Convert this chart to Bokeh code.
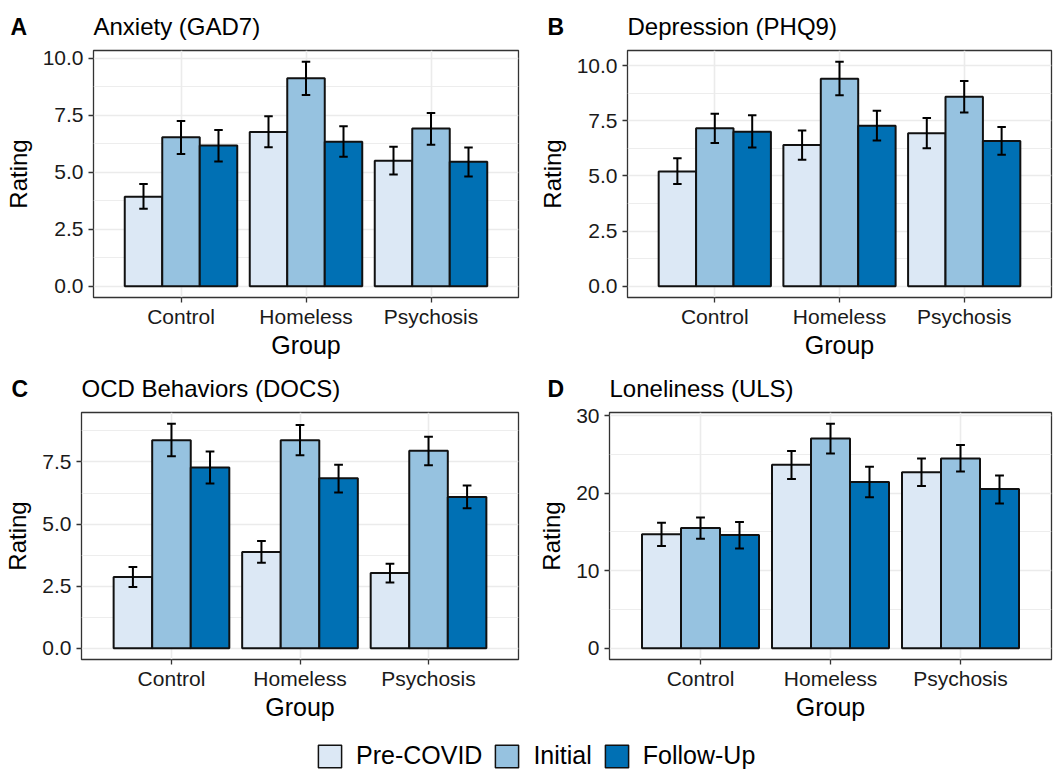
from bokeh.plotting import figure
from bokeh.models import (ColumnDataSource, FactorRange, Range1d, FixedTicker,
                          Legend, LegendItem)
from bokeh.transform import dodge
from bokeh.layouts import column, row
from bokeh.embed import file_html
from bokeh.resources import INLINE
from bokeh.core.properties import value

# ---------------- data ----------------
groups = ["Control", "Homeless", "Psychosis"]
timepoints = ["Pre-COVID", "Initial", "Follow-Up"]
colors = ["#DCE8F5", "#96C2E0", "#0070B4"]

# rows = timepoints (Pre-COVID, Initial, Follow-Up); columns = groups
gad7_mean = [[3.93, 6.77, 5.51], [6.54, 9.13, 6.92], [6.17, 6.34, 5.46]]
gad7_low = [[3.40, 6.10, 4.90], [5.80, 8.39, 6.21], [5.47, 5.68, 4.81]]
gad7_high = [[4.49, 7.46, 6.12], [7.25, 9.85, 7.60], [6.86, 7.02, 6.09]]

phq9_mean = [[5.20, 6.40, 6.94], [7.16, 9.41, 8.59], [7.01, 7.28, 6.59]]
phq9_low = [[4.64, 5.74, 6.26], [6.49, 8.66, 7.88], [6.29, 6.61, 5.96]]
phq9_high = [[5.80, 7.06, 7.63], [7.82, 10.18, 9.31], [7.75, 7.96, 7.22]]

docs_mean = [[2.87, 3.88, 3.03], [8.37, 8.37, 7.95], [7.28, 6.84, 6.09]]
docs_low = [[2.47, 3.44, 2.65], [7.73, 7.77, 7.37], [6.63, 6.27, 5.64]]
docs_high = [[3.27, 4.32, 3.40], [9.04, 8.99, 8.52], [7.92, 7.39, 6.55]]

uls_mean = [[14.68, 23.64, 22.70], [15.49, 27.02, 24.46], [14.60, 21.43, 20.53]]
uls_low = [[13.19, 21.81, 20.91], [14.13, 25.10, 22.79], [12.85, 19.46, 18.65]]
uls_high = [[16.18, 25.44, 24.46], [16.86, 28.94, 26.20], [16.26, 23.39, 22.28]]

panel_letters = ["A", "B", "C", "D"]
panel_titles = ["Anxiety (GAD7)", "Depression (PHQ9)", "OCD Behaviors (DOCS)", "Loneliness (ULS)"]

small_ticks = [0, 2.5, 5.0, 7.5, 10.0]
small_minor = [1.25, 3.75, 6.25, 8.75]
small_labels = ["0.0", "2.5", "5.0", "7.5", "10.0"]
uls_ticks = [0, 10, 20, 30]
uls_minor = [5, 15, 25]
uls_labels = ["0", "10", "20", "30"]

FONT = "Liberation Sans"
W = 1062


def make_header(letters, titles, height, letter_xs, title_xs, mid_y):
    h = figure(width=W, height=height, min_border=0, title=None,
               x_range=Range1d(0, W), y_range=Range1d(0, height),
               output_backend="svg", toolbar_location=None)
    h.axis.visible = False
    h.grid.visible = False
    h.outline_line_color = None
    h.text(x=letter_xs, y=[mid_y] * len(letters), text=letters, text_font=value(FONT),
           text_font_size="23px", text_font_style="bold", text_color="black",
           text_baseline="middle", text_align="left")
    h.text(x=title_xs, y=[mid_y] * len(titles), text=titles, text_font=value(FONT),
           text_font_size="24px", text_color="black",
           text_baseline="middle", text_align="left")
    return h


def make_panel(means, lows, highs, ticks, minor, labels,
               width, height, left, right, top, bottom):
    ymax = max(max(r) for r in highs)
    p = figure(
        x_range=FactorRange(*groups, range_padding=0.2, range_padding_units="absolute"),
        y_range=Range1d(-0.05 * ymax, 1.05 * ymax),
        width=width, height=height, title=None,
        min_border_left=left, min_border_right=right,
        min_border_top=top, min_border_bottom=bottom,
        output_backend="svg", toolbar_location=None,
    )
    p.outline_line_color = "#333333"
    p.outline_line_width = 1.3
    p.background_fill_color = "white"
    p.border_fill_color = "white"

    p.xgrid.grid_line_color = "#EBEBEB"
    p.xgrid.grid_line_width = 1.6
    p.ygrid.grid_line_color = "#EBEBEB"
    p.ygrid.grid_line_width = 1.6
    p.ygrid.minor_grid_line_color = "#EBEBEB"
    p.ygrid.minor_grid_line_width = 0.9

    p.yaxis.ticker = FixedTicker(ticks=ticks, minor_ticks=minor)
    p.yaxis.major_label_overrides = {t: l for t, l in zip(ticks, labels)}

    for ax in (p.xaxis[0], p.yaxis[0]):
        ax.axis_line_color = None
        ax.major_tick_line_color = "#333333"
        ax.major_tick_line_width = 1.3
        ax.major_tick_out = 5
        ax.major_tick_in = 0
        ax.minor_tick_line_color = None
        ax.major_label_text_font = FONT
        ax.major_label_text_font_size = "21px"
        ax.major_label_text_color = "#1a1a1a"
        ax.axis_label_text_font = FONT
        ax.axis_label_text_font_style = "normal"
        ax.axis_label_text_color = "black"
    p.xaxis.axis_label = "Group"
    p.yaxis.axis_label = "Rating"
    p.xaxis.axis_label_text_font_size = "25px"
    p.yaxis.axis_label_text_font_size = "24px"
    p.xaxis.major_label_standoff = 2
    p.yaxis.major_label_standoff = 5
    p.xaxis.axis_label_standoff = 0
    p.yaxis.axis_label_standoff = 8

    offsets = [-0.3, 0.0, 0.3]
    cap = 0.034
    for i, c in enumerate(colors):
        src = ColumnDataSource(dict(group=groups, mean=means[i], lo=lows[i], hi=highs[i]))
        off = offsets[i]
        p.vbar(x=dodge("group", off, range=p.x_range), top="mean", bottom=0, width=0.3,
               source=src, fill_color=c, line_color="#111111", line_width=2)
        p.segment(x0=dodge("group", off, range=p.x_range), x1=dodge("group", off, range=p.x_range),
                  y0="lo", y1="hi", source=src, line_color="black", line_width=2)
        p.segment(x0=dodge("group", off - cap, range=p.x_range), x1=dodge("group", off + cap, range=p.x_range),
                  y0="hi", y1="hi", source=src, line_color="black", line_width=2)
        p.segment(x0=dodge("group", off - cap, range=p.x_range), x1=dodge("group", off + cap, range=p.x_range),
                  y0="lo", y1="lo", source=src, line_color="black", line_width=2)
    return p


h1 = make_header(panel_letters[:2], panel_titles[:2], 40, [10, 547], [93, 627], 14)
h2 = make_header(panel_letters[2:], panel_titles[2:], 37, [11, 547], [81, 609], 14)

pA = make_panel(gad7_mean, gad7_low, gad7_high, small_ticks, small_minor, small_labels,
                531, 325, 93, 13, 10, 68)
pB = make_panel(phq9_mean, phq9_low, phq9_high, small_ticks, small_minor, small_labels,
                531, 325, 96, 11, 10, 68)
pC = make_panel(docs_mean, docs_low, docs_high, small_ticks[:4], small_minor, small_labels[:4],
                531, 321, 81, 13, 10, 64)
pD = make_panel(uls_mean, uls_low, uls_high, uls_ticks, uls_minor, uls_labels,
                531, 321, 78, 11, 10, 64)

# legend strip
leg = figure(width=W, height=48, min_border=0, title=None,
             output_backend="svg", toolbar_location=None,
             x_range=Range1d(0, 1), y_range=Range1d(0, 1))
leg.axis.visible = False
leg.grid.visible = False
leg.outline_line_color = None
items = []
for t, c in zip(timepoints, colors):
    # off-screen placeholder glyph used only as the legend swatch
    r = leg.rect(x=[-5], y=[-5], width=0.1, height=0.1, fill_color=c,
                 line_color="#111111", line_width=1.5)
    items.append(LegendItem(label=t, renderers=[r]))
legend = Legend(items=items, orientation="horizontal", location=(315, 1),
                glyph_width=29, glyph_height=28, label_text_font=FONT,
                label_text_color="black", label_height=28,
                label_text_font_size="25px", label_standoff=12, spacing=10,
                border_line_color=None, background_fill_alpha=0, padding=0, margin=0)
leg.add_layout(legend, "center")

layout = column(h1, row(pA, pB), h2, row(pC, pD), leg)
open("out.html", "w").write(file_html(layout, INLINE))
